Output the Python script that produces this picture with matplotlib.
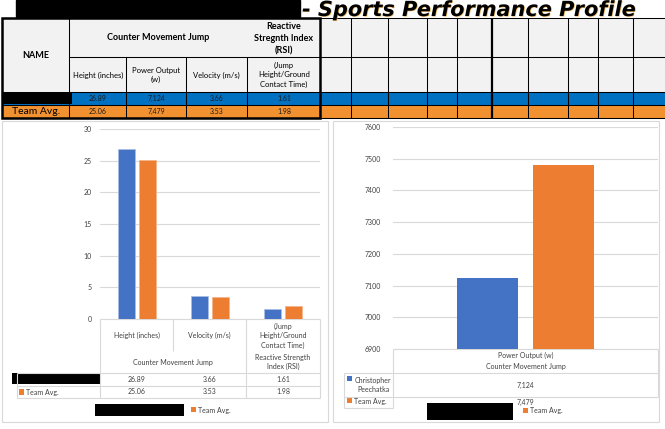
import matplotlib.pyplot as plt
from matplotlib.patches import Rectangle
from matplotlib import patheffects

plt.rcParams['font.family'] = ['Lato', 'DejaVu Sans']

# ---- data ----
jump_cats = ['Height (inches)', 'Velocity (m/s)', '(Jump\nHeight/Ground\nContact Time)']
athlete_jump = [26.89, 3.66, 1.61]
team_jump = [25.06, 3.53, 1.98]

power_cats = ['Power Output (w)']
athlete_power = [7124]
team_power = [7479]

athlete_name = 'Christopher\nPeechatka'
team_name = 'Team Avg.'

top_headers = ['Height (inches)', 'Power Output\n(w)', 'Velocity (m/s)',
               '(Jump\nHeight/Ground\nContact Time)']
left_ticks = [0, 5, 10, 15, 20, 25, 30]
right_ticks = [6900, 7000, 7100, 7200, 7300, 7400, 7500, 7600]

BLUE = '#4472C4'
ORANGE = '#ED7D31'
GRID = '#d9d9d9'
TXT = '#404040'

fig = plt.figure(figsize=(6.65, 4.29), dpi=100)

# overlay in pixel coords (origin top-left)
ax0 = fig.add_axes([0, 0, 1, 1])
ax0.set_xlim(0, 665)
ax0.set_ylim(429, 0)
ax0.axis('off')


def box(x0, y0, x1, y1, **kw):
    ax0.add_patch(Rectangle((x0, y0), x1 - x0, y1 - y0, **kw))


def hl(y, x0, x1, c='black', lw=0.75):
    ax0.plot([x0, x1], [y, y], color=c, lw=lw, solid_capstyle='butt')


def vl(x, y0, y1, c='black', lw=0.75):
    ax0.plot([x, x], [y0, y1], color=c, lw=lw, solid_capstyle='butt')


def fmt(v):
    return f'{v:,}' if v >= 1000 else f'{v:.2f}'


# ---- title ----
box(16, 0, 300, 17, color='black')
ax0.text(302, 16, '- Sports Performance Profile', ha='left', va='baseline',
         fontsize=15, fontweight='bold', style='italic', family='DejaVu Sans',
         color='black',
         path_effects=[patheffects.withSimplePatchShadow(offset=(0.5, -0.4),
                                                        shadow_rgbFace='#e8a030',
                                                        alpha=0.8)])

# ---- top table ----
box(2, 18, 665, 92, color='#f2f2f2', lw=0)
box(2, 92, 665, 105, color='#0070C0', lw=0)
box(2, 105, 665, 118, color='#F29130', lw=0)
box(2, 92.5, 72, 104, color='black', lw=0)

right_cols = [351, 388, 427, 457, 528, 568, 598, 633]
for x in right_cols:
    vl(x, 18, 118)
vl(492, 18, 118, lw=1.6)
vl(69, 18, 118)
for x in [126, 186, 247]:
    vl(x, 57, 118)
hl(18, 2, 665)
hl(57, 69, 665)
hl(92, 2, 665)
hl(105, 2, 665)
hl(118, 2, 665)
box(2, 18, 320, 118, fill=False, ec='black', lw=1.8)

ax0.text(36, 56, 'NAME', ha='center', va='center', fontsize=6.5, fontweight='bold')
ax0.text(158, 38, 'Counter Movement Jump', ha='center', va='center',
         fontsize=6.5, fontweight='bold')
ax0.text(284, 38.5, 'Reactive\nStregnth Index\n(RSI)', ha='center', va='center',
         fontsize=6.5, fontweight='bold', linespacing=1.45)

col_centers = [98, 156, 216.5, 284]
for cx, lab in zip(col_centers, top_headers):
    ax0.text(cx, 75, lab, ha='center', va='center', fontsize=5.5,
             linespacing=1.45)

top_athlete = [athlete_jump[0], athlete_power[0], athlete_jump[1], athlete_jump[2]]
top_team = [team_jump[0], team_power[0], team_jump[1], team_jump[2]]
for cx, a, t in zip(col_centers, top_athlete, top_team):
    ax0.text(cx, 98.5, fmt(a), ha='center', va='center', fontsize=5, color='#1a1a1a')
    ax0.text(cx, 111.5, fmt(t), ha='center', va='center', fontsize=5, color='#1a1a1a')
ax0.text(36, 112, team_name, ha='center', va='center', fontsize=7.5, color='black')

# ---- chart frames ----
box(2, 121, 328, 422, fill=False, ec=GRID, lw=0.8)
box(333, 121, 659, 422, fill=False, ec=GRID, lw=0.8)

# ---- left chart ----
W, H = 665, 429
axL = fig.add_axes([100 / W, 1 - 319 / H, 220 / W, 190 / H])
axL.set_facecolor('none')
xs = range(len(jump_cats))
off, bw = 0.143, 0.232
axL.bar([x - off for x in xs], athlete_jump, bw, color=BLUE, edgecolor='#a9bde6', lw=0.6, zorder=3)
axL.bar([x + off for x in xs], team_jump, bw, color=ORANGE, edgecolor='#f5b48a', lw=0.6, zorder=3)
axL.set_xlim(-0.5, len(jump_cats) - 0.5)
axL.set_ylim(0, 30)
axL.set_yticks(left_ticks)
axL.set_xticks([])
axL.yaxis.grid(True, color=GRID, lw=0.8)
axL.set_axisbelow(True)
for s in axL.spines.values():
    s.set_visible(False)
axL.tick_params(axis='y', length=0, pad=6, labelsize=5, labelcolor=TXT)

# left data table
hl(319, 100, 320, c=GRID, lw=0.8)
vl(100, 319, 398, c=GRID, lw=0.8)
vl(173, 319, 351, c=GRID, lw=0.8)
vl(246, 319, 398, c=GRID, lw=0.8)
vl(320, 319, 398, c=GRID, lw=0.8)
vl(17, 373, 398, c=GRID, lw=0.8)
for y in [373, 386, 398]:
    hl(y, 17, 320, c=GRID, lw=0.8)

cat_x = [136.5, 209.5, 283]
for cx, lab in zip(cat_x, jump_cats):
    ax0.text(cx, 335.5, lab, ha='center', va='center', fontsize=5, color=TXT,
             linespacing=1.4)
ax0.text(173, 362, 'Counter Movement Jump', ha='center', va='center', fontsize=5, color=TXT)
ax0.text(283, 362, 'Reactive Strength\nIndex (RSI)', ha='center', va='center',
         fontsize=5, color=TXT, linespacing=1.3)
for cx, a, t in zip(cat_x, athlete_jump, team_jump):
    ax0.text(cx, 379.5, fmt(a), ha='center', va='center', fontsize=5, color=TXT)
    ax0.text(cx, 392, fmt(t), ha='center', va='center', fontsize=5, color=TXT)
box(12, 373, 101, 383.5, color='black', lw=0)
box(19, 389, 23.5, 394.5, color=ORANGE, lw=0)
ax0.text(26, 392, team_name, ha='left', va='center', fontsize=5, color=TXT)

box(95, 404, 184, 416, color='black', lw=0)
box(191, 407, 196, 412, color=ORANGE, lw=0)
ax0.text(198, 410, team_name, ha='left', va='center', fontsize=5, color=TXT)

# ---- right chart ----
axR = fig.add_axes([393 / W, 1 - 349 / H, 265 / W, 222 / H])
axR.set_facecolor('none')
axR.bar([-off], athlete_power, 0.228, color=BLUE, zorder=3)
axR.bar([off], team_power, 0.228, color=ORANGE, zorder=3)
axR.set_xlim(-0.5, 0.5)
axR.set_ylim(6900, 7600)
axR.set_yticks(right_ticks)
axR.set_xticks([])
axR.yaxis.grid(True, color=GRID, lw=0.8)
axR.set_axisbelow(True)
for s in axR.spines.values():
    s.set_visible(False)
axR.tick_params(axis='y', length=0, pad=9, labelsize=5, labelcolor=TXT)

# right data table
hl(349, 393, 658, c=GRID, lw=0.8)
vl(393, 349, 408, c=GRID, lw=0.8)
vl(658, 349, 397, c=GRID, lw=0.8)
vl(344, 373, 408, c=GRID, lw=0.8)
hl(373, 344, 658, c=GRID, lw=0.8)
hl(397, 344, 658, c=GRID, lw=0.8)
hl(408, 344, 393, c=GRID, lw=0.8)

ax0.text(525.5, 355, power_cats[0], ha='center', va='center', fontsize=5, color=TXT)
ax0.text(525.5, 367, 'Counter Movement Jump', ha='center', va='center', fontsize=5, color=TXT)
box(347, 376, 352, 381, color=BLUE, lw=0)
ax0.text(373, 385, athlete_name, ha='center', va='center', fontsize=5, color=TXT,
         linespacing=1.5)
ax0.text(525.5, 385, fmt(athlete_power[0]), ha='center', va='center', fontsize=5, color=TXT)
box(347, 398, 352, 403, color=ORANGE, lw=0)
ax0.text(354, 401.5, team_name, ha='left', va='center', fontsize=5, color=TXT)
ax0.text(525.5, 402, fmt(team_power[0]), ha='center', va='center', fontsize=5, color=TXT)

box(427, 403, 513, 420, color='black', lw=0, zorder=5)
box(523, 408, 528, 413, color=ORANGE, lw=0)
ax0.text(530, 411, team_name, ha='left', va='center', fontsize=5, color=TXT)

fig.savefig('out.png', dpi=100)
